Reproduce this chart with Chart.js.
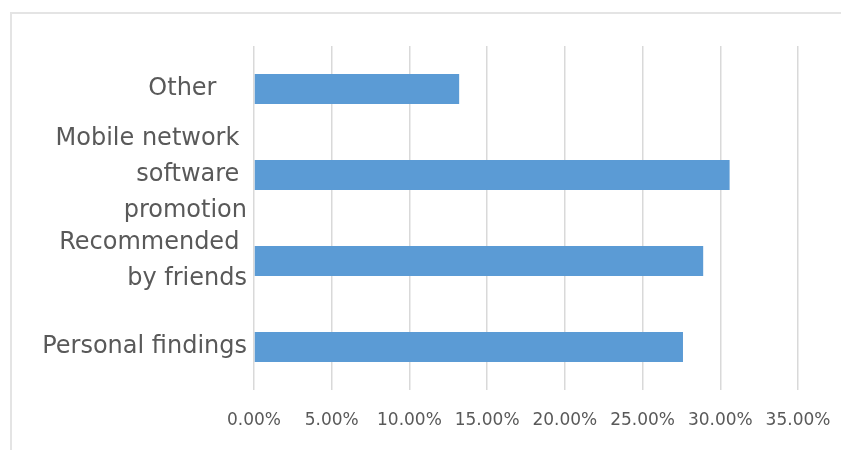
<!DOCTYPE html>
<html>
<head>
<meta charset="utf-8">
<script src="https://cdn.jsdelivr.net/npm/chart.js@4/dist/chart.umd.min.js"></script>
<style>
  html, body { margin: 0; padding: 0; background: #fff; overflow: hidden; }
  #frame { position: absolute; left: 10px; top: 12px; width: 900px; height: 500px; border: 2px solid #e4e4e4; }
  #wrap { position: absolute; left: 0; top: 0; width: 841px; height: 450px; }
</style>
</head>
<body>
<div id="frame"></div>
<div id="wrap"><canvas id="myChart" width="841" height="450"></canvas></div>
<script>
// categories top to bottom, values in percent
var categories = [
    ['Other    '],
    ['Mobile network ', 'software ', 'promotion'],
    ['Recommended ', 'by friends'],
    ['Personal findings']
];
var shares = [13.2, 30.6, 28.9, 27.6];
var xTicks = { min: 0, max: 35, step: 5 };

function drawChart(canvasId, labels, values) {
    const ctx = document.getElementById(canvasId).getContext('2d');
    new Chart(ctx, {
        type: 'bar',
        data: {
            labels: labels,
            datasets: [{
                data: values,
                backgroundColor: '#5b9bd5',
                borderWidth: 0,
                barPercentage: 0.7,
                categoryPercentage: 0.5
            }]
        },
        options: {
            indexAxis: 'y',
            responsive: false,
            animation: false,
            layout: { padding: { top: 46, right: 43, left: 0, bottom: 0 } },
            plugins: { legend: { display: false }, tooltip: { enabled: false } },
            scales: {
                x: {
                    min: xTicks.min,
                    max: xTicks.max,
                    border: { display: false },
                    grid: { color: '#d9d9d9', lineWidth: 1.5, drawTicks: false },
                    ticks: {
                        stepSize: xTicks.step,
                        autoSkip: false,
                        maxRotation: 0,
                        padding: 20,
                        color: '#595959',
                        font: { family: 'DejaVu Sans', size: 17 },
                        callback: v => v.toFixed(2) + '%'
                    },
                    afterFit: s => { s.height = 60; s.paddingLeft = 0; s.paddingRight = 0; }
                },
                y: {
                    border: { display: false },
                    grid: { display: false, drawTicks: false },
                    ticks: {
                        autoSkip: false,
                        padding: 7,
                        color: '#595959',
                        font: { family: 'DejaVu Sans', size: 24, lineHeight: 1.5 }
                    },
                    afterFit: s => { s.width = 254; }
                }
            }
        }
    });
}

drawChart('myChart', categories, shares);
</script>
</body>
</html>
